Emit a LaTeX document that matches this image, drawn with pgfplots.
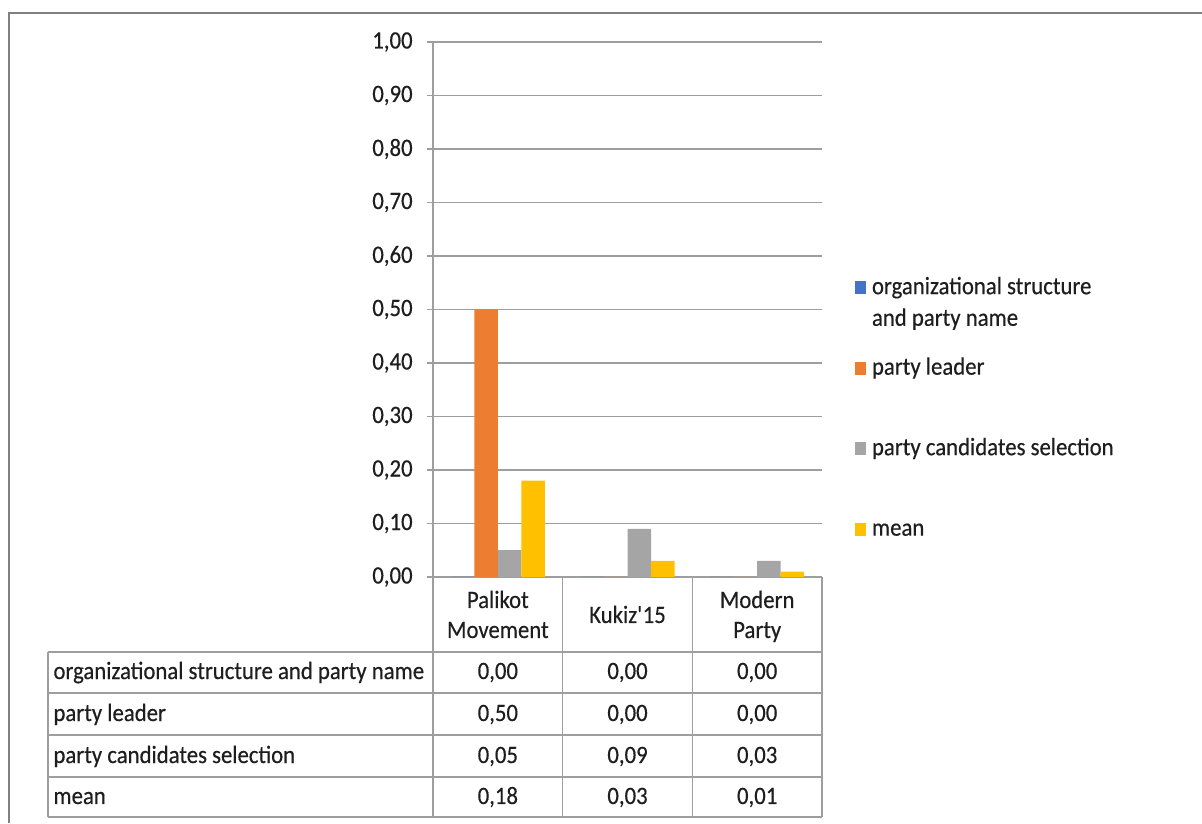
\documentclass[border=0pt]{standalone}
\usepackage{fontspec}
\setmainfont{Carlito}[FakeStretch=0.91, FakeBold=0.4]
\usepackage{pgfplots}
\pgfplotsset{compat=1.18}
\definecolor{cblue}{HTML}{4472C4}
\definecolor{corange}{HTML}{ED7D31}
\definecolor{cgray}{HTML}{A5A5A5}
\definecolor{cyellow}{HTML}{FFC000}
\definecolor{linec}{HTML}{9E9E9E}
\definecolor{txt}{HTML}{1E1E1E}
\newcommand{\fs}{\fontsize{12.5pt}{15pt}\selectfont}
\newcommand{\fl}{\fontsize{12.5pt}{15.8pt}\selectfont}
\pgfplotsset{
  mybar/.style={ybar, bar width=11.75pt, draw=none,
    legend image code/.code={\path[fill=none, draw=none] (0pt,-20.54pt) rectangle (5.5pt,6.5pt);
      \fill[##1] (0pt,0pt) rectangle (5.5pt,6.5pt);}},
  tabval/.style={draw=none, mark=none, forget plot, nodes near coords,
    point meta=explicit symbolic,
    nodes near coords style={anchor=base, font=\fs, text=txt, inner sep=0pt}},
}
\begin{document}
\begin{tikzpicture}
\path[use as bounding box] (0,0) rectangle (601pt,411.5pt);
\draw[color=gray, line width=1pt] (601pt,405pt) -- (4.5pt,405pt) -- (4.5pt,0pt);
\begin{axis}[
  at={(216.5pt,123pt)}, anchor=south west,
  scale only axis, width=194.5pt, height=267.5pt,
  xmin=-0.5, xmax=2.5, ymin=0, ymax=1,
  clip=false,
  axis x line*=bottom, axis y line*=left,
  axis line style={draw=linec, line width=0.8pt},
  ytick={0,0.1,0.2,0.3,0.4,0.5,0.6,0.7,0.8,0.9,1},
  ymajorgrids, grid style={draw=linec, line width=0.8pt},
  major tick length=3pt, tick align=outside,
  ytick style={draw=linec, line width=0.8pt},
  xtick={0,1,2}, xtick style={draw=none},
  xticklabels={{\strut Palikot\\\strut Movement},{\strut Kukiz\textquotesingle 15},{\strut Modern\\\strut Party}},
  xticklabel style={font=\fs, text=txt, align=center, anchor=center, yshift=-17pt},
  yticklabel style={font=\fs, text=txt, anchor=east, inner sep=0pt, xshift=-7pt,
    /pgf/number format/.cd, fixed, fixed zerofill, precision=2, use comma, assume math mode=true},
  legend style={at={(1.0848,0.570)}, anchor=north west, draw=none, fill=none,
    inner sep=0pt, outer sep=0pt, row sep=8.65pt, column sep=3pt, font=\fl, text=txt,
    cells={anchor=base west}, nodes={inner sep=0pt}},
]
\addplot[mybar, bar shift=-17.625pt, fill=cblue] coordinates {(0,0) (1,0) (2,0)};
\addlegendentry{\begin{tabular}[t]{@{}l@{}}organizational structure\\and party name\end{tabular}}
\addplot[mybar, bar shift=-5.875pt, fill=corange] coordinates {(0,0.50) (1,0) (2,0)};
\addlegendentry{\strut party leader}
\addplot[mybar, bar shift=5.875pt, fill=cgray] coordinates {(0,0.05) (1,0.09) (2,0.03)};
\addlegendentry{\strut party candidates selection}
\addplot[mybar, bar shift=17.625pt, fill=cyellow] coordinates {(0,0.18) (1,0.03) (2,0.01)};
\addlegendentry{\strut mean}
% data table text
\addplot[tabval] coordinates {(0,-0.1907)[{0,00}] (1,-0.1907)[{0,00}] (2,-0.1907)[{0,00}]};
\addplot[tabval] coordinates {(0,-0.2692)[{0,50}] (1,-0.2692)[{0,00}] (2,-0.2692)[{0,00}]};
\addplot[tabval] coordinates {(0,-0.3477)[{0,05}] (1,-0.3477)[{0,09}] (2,-0.3477)[{0,03}]};
\addplot[tabval] coordinates {(0,-0.4243)[{0,18}] (1,-0.4243)[{0,03}] (2,-0.4243)[{0,01}]};
\begin{scope}[every node/.style={anchor=base west, font=\fs, text=txt, inner sep=0pt}]
\node at (axis cs:-3.43,-0.1907) {organizational structure and party name};
\node at (axis cs:-3.43,-0.2692) {party leader};
\node at (axis cs:-3.43,-0.3477) {party candidates selection};
\node at (axis cs:-3.43,-0.4243) {mean};
\end{scope}
\begin{scope}[draw=linec, line width=0.8pt]
\draw (axis cs:-3.469,-0.1402) -- (axis cs:2.5,-0.1402);
\draw (axis cs:-3.469,-0.2168) -- (axis cs:2.5,-0.2168);
\draw (axis cs:-3.469,-0.2953) -- (axis cs:2.5,-0.2953);
\draw (axis cs:-3.469,-0.3738) -- (axis cs:2.5,-0.3738);
\draw (axis cs:-3.469,-0.4486) -- (axis cs:2.5,-0.4486);
\draw (axis cs:-3.469,-0.1402) -- (axis cs:-3.469,-0.4486);
\draw (axis cs:-0.5,0) -- (axis cs:-0.5,-0.4486);
\draw (axis cs:0.5,0) -- (axis cs:0.5,-0.4486);
\draw (axis cs:1.5,0) -- (axis cs:1.5,-0.4486);
\draw (axis cs:2.5,0) -- (axis cs:2.5,-0.4486);
\end{scope}
\end{axis}
\end{tikzpicture}
\end{document}
